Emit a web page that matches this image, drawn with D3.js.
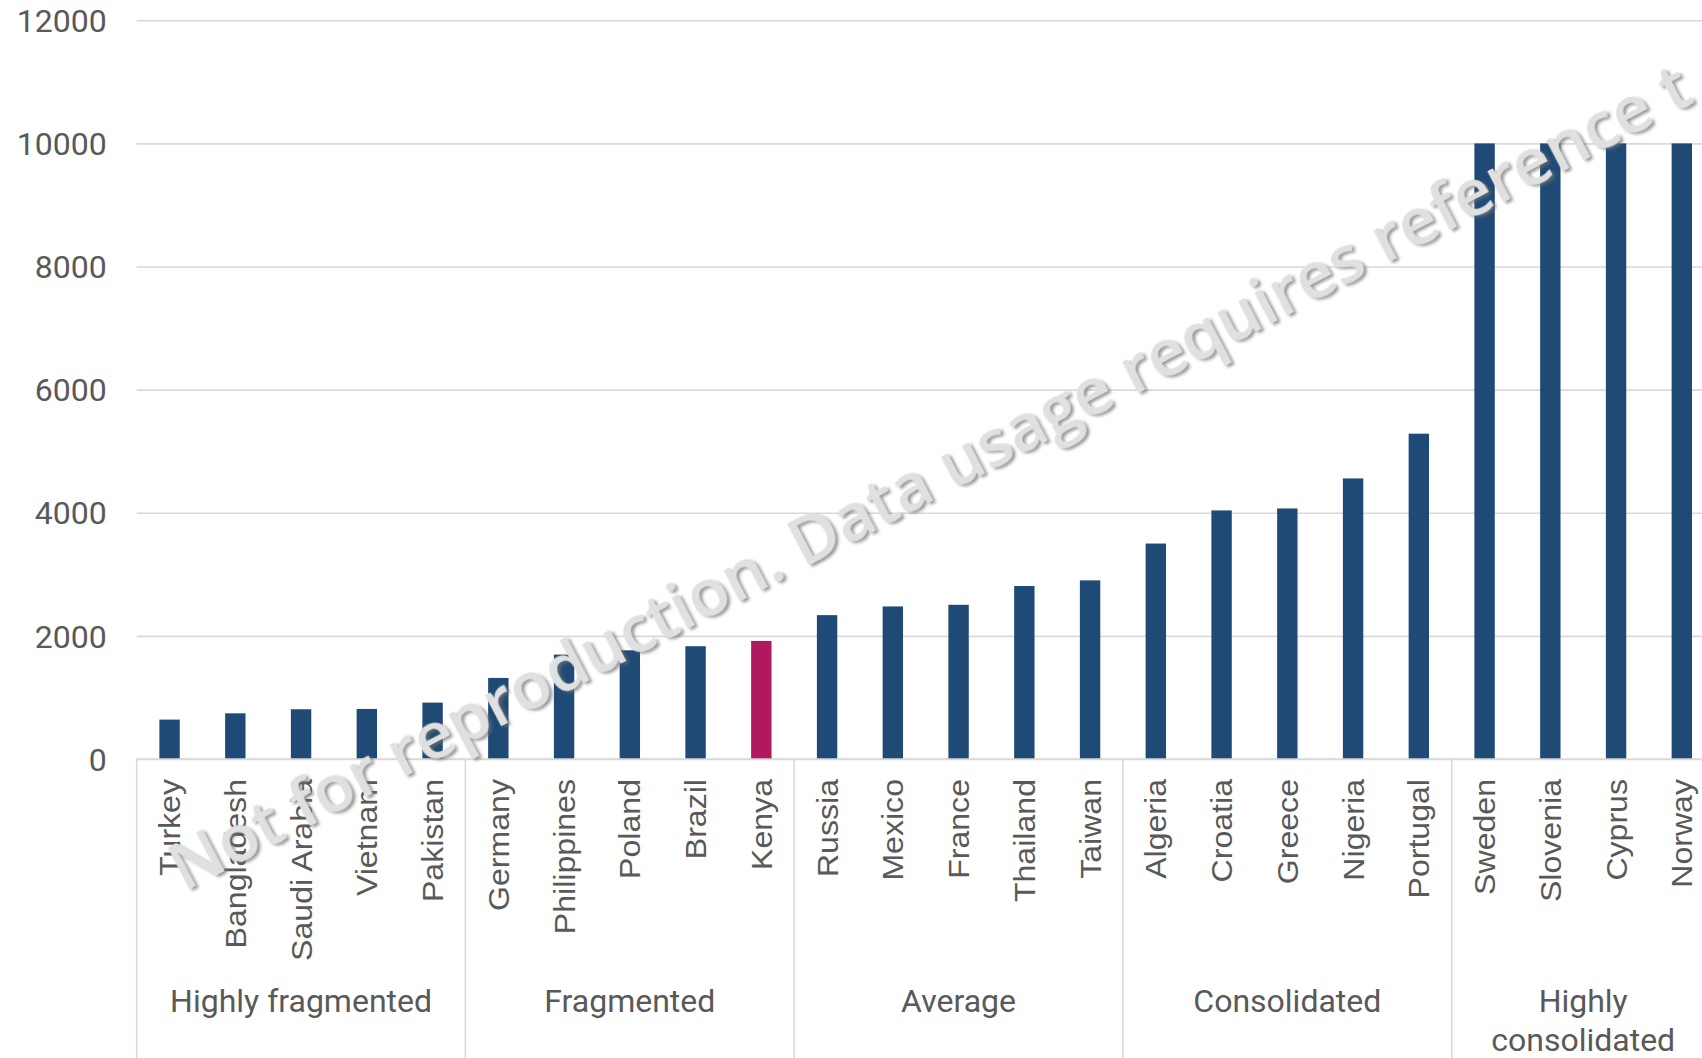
<!DOCTYPE html>
<html>
<head>
<meta charset="utf-8">
<script src="https://cdn.jsdelivr.net/npm/d3@7"></script>
<style>
  html, body { margin: 0; padding: 0; background: #ffffff; }
  svg { display: block; }
</style>
</head>
<body>
<svg id="chart" width="1702" height="1058"></svg>
<script>
// ---- data ----
const countries = ["Turkey","Bangladesh","Saudi Arabia","Vietnam","Pakistan",
  "Germany","Philippines","Poland","Brazil","Kenya",
  "Russia","Mexico","France","Thailand","Taiwan",
  "Algeria","Croatia","Greece","Nigeria","Portugal",
  "Sweden","Slovenia","Cyprus","Norway"];
const values = [640, 742, 808, 813, 916,
  1317, 1696, 1766, 1832, 1918,
  2337, 2478, 2505, 2810, 2902,
  3500, 4038, 4070, 4558, 5285,
  10000, 10000, 10000, 10000];
const groupNames = ["Highly fragmented","Fragmented","Average","Consolidated","Highly consolidated"];
const groupSizes = [5, 5, 5, 5, 4];
const highlighted = ["Kenya"];
const yTicks = [0, 2000, 4000, 6000, 8000, 10000, 12000];
const watermark = "Not for reproduction. Data usage requires reference t";

// ---- layout ----
const W = 1702, H = 1058;
const plot = { left: 136.7, right: 1714.7, top: 20.3, bottom: 759 };
const svg = d3.select("#chart");

const xSlot = d3.scaleBand().domain(countries).range([plot.left, plot.right]).padding(0);
const xBar = d3.scaleBand().domain(countries).range([plot.left, plot.right])
  .paddingInner(0.69).paddingOuter(0.345);
const y = d3.scaleLinear().domain([0, 12000]).range([plot.bottom, plot.top]);

const grey = "#595959";
const lineCol = "#d9d9d9";

// gridlines
const yAxis = d3.axisLeft(y).tickValues(yTicks).tickSize(-(plot.right - plot.left)).tickPadding(30)
  .tickFormat(d3.format("d"));
const gy = svg.append("g").attr("transform", `translate(${plot.left},0)`).call(yAxis);
gy.select(".domain").remove();
gy.selectAll(".tick line").attr("stroke", lineCol).attr("stroke-width", 1.6);
gy.selectAll(".tick text")
  .attr("fill", grey)
  .attr("font-family", "Roboto, sans-serif")
  .attr("font-size", 32)
  .attr("dy", "0.35em");

// bars
svg.append("g").selectAll("rect")
  .data(countries.map((c, i) => ({ c, v: values[i] })))
  .join("rect")
  .attr("x", d => xBar(d.c))
  .attr("width", xBar.bandwidth())
  .attr("y", d => y(d.v))
  .attr("height", d => y(0) - y(d.v))
  .attr("fill", d => highlighted.includes(d.c) ? "#B0195E" : "#1F4A75");

// axis line at zero
svg.append("line")
  .attr("x1", plot.left).attr("x2", plot.right)
  .attr("y1", y(0)).attr("y2", y(0))
  .attr("stroke", lineCol).attr("stroke-width", 1.6);

// country labels
svg.append("g").selectAll("text")
  .data(countries)
  .join("text")
  .attr("transform", d => `translate(${xSlot(d) + xSlot.bandwidth() / 2},${plot.bottom + 20}) rotate(-90) scale(1.07,1)`)
  .attr("text-anchor", "end")
  .attr("dy", "0.35em")
  .attr("fill", grey)
  .attr("font-family", "'Liberation Sans', Arial, sans-serif")
  .attr("font-size", 30)
  .text(d => d);

// group separators and labels
let start = 0;
const groups = groupNames.map((name, gi) => {
  const g = { name, from: start, to: start + groupSizes[gi] - 1 };
  start += groupSizes[gi];
  return g;
});
const sepG = svg.append("g");
groups.forEach(g => {
  const x0 = xSlot(countries[g.from]);
  sepG.append("line")
    .attr("x1", x0).attr("x2", x0)
    .attr("y1", plot.bottom).attr("y2", H)
    .attr("stroke", lineCol).attr("stroke-width", 1.6);
});
const lblG = svg.append("g");
groups.forEach(g => {
  const x0 = xSlot(countries[g.from]);
  const x1 = xSlot(countries[g.to]) + xSlot.bandwidth();
  const cx = (x0 + x1) / 2;
  const t = lblG.append("text")
    .attr("x", cx).attr("y", 1012)
    .attr("text-anchor", "middle")
    .attr("fill", grey)
    .attr("font-family", "Roboto, sans-serif")
    .attr("font-size", 32)
    .text(g.name);
  if (t.node().getComputedTextLength() > (x1 - x0) - 10) {
    const words = g.name.split(" ");
    t.text(null).attr("y", 1012);
    words.forEach((w, i) => {
      t.append("tspan").attr("x", cx).attr("dy", i === 0 ? 0 : 39).text(w);
    });
  }
});

// watermark
const defs = svg.append("defs");
const f = defs.append("filter").attr("id", "wmShadow")
  .attr("x", "-5%").attr("y", "-20%").attr("width", "110%").attr("height", "140%");
f.append("feDropShadow").attr("dx", 2).attr("dy", 3).attr("stdDeviation", 1.6)
  .attr("flood-color", "#6e6e6e").attr("flood-opacity", 0.7);
svg.append("text")
  .attr("transform", "translate(184,892) rotate(-27.6)")
  .attr("font-family", "'Open Sans', sans-serif")
  .attr("font-size", 66)
  .attr("font-weight", 600)
  .attr("fill", "#e0e0e0")
  .attr("filter", "url(#wmShadow)")
  .text(watermark);
</script>
</body>
</html>
